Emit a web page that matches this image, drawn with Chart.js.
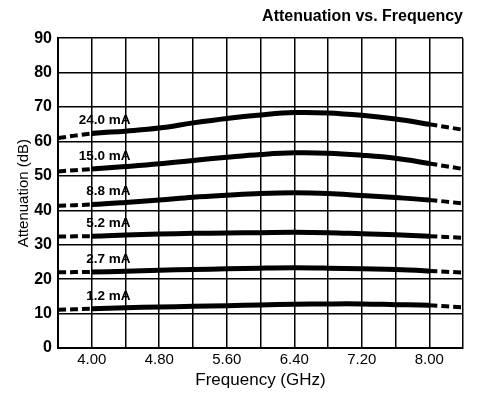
<!DOCTYPE html>
<html>
<head>
<meta charset="utf-8">
<script src="https://cdn.jsdelivr.net/npm/chart.js@4/dist/chart.umd.min.js"></script>
<style>
  html, body { margin: 0; padding: 0; background: #fff; }
  #wrap { width: 483px; height: 394px; }
</style>
</head>
<body>
<div id="wrap"><canvas id="c" width="483" height="394"></canvas></div>
<script>
// Frequency points (GHz)
const freqs = [3.6, 4.0, 4.4, 4.8, 5.2, 5.6, 6.0, 6.4, 6.8, 7.2, 7.6, 8.0, 8.4];
// Curve labels (bias current)
const currents = ['24.0 mA', '15.0 mA', '8.8 mA', '5.2 mA', '2.7 mA', '1.2 mA'];
// Attenuation (dB) for each current
const att24_0 = [61.0, 62.3, 63.0, 63.9, 65.4, 66.7, 67.7, 68.4, 68.3, 67.6, 66.5, 65.0, 63.4];
const att15_0 = [51.3, 52.0, 52.7, 53.5, 54.5, 55.4, 56.2, 56.7, 56.6, 56.0, 55.1, 53.6, 52.0];
const att8_8  = [41.3, 41.7, 42.3, 43.0, 43.8, 44.4, 44.9, 45.1, 44.9, 44.3, 43.7, 43.0, 42.0];
const att5_2  = [32.4, 32.5, 32.8, 33.1, 33.3, 33.4, 33.5, 33.6, 33.5, 33.2, 32.9, 32.5, 32.0];
const att2_7  = [22.0, 22.1, 22.3, 22.6, 22.8, 23.0, 23.2, 23.3, 23.2, 23.0, 22.8, 22.4, 21.9];
const att1_2  = [11.1, 11.4, 11.7, 11.9, 12.1, 12.3, 12.5, 12.7, 12.8, 12.8, 12.6, 12.4, 11.8];
// Measured (solid) range; outside it the curves are dashed
const solidFrom = 4.0;
const solidTo = 8.0;
// Axis ticks
const xLabeledTicks = ['4.00', '4.80', '5.60', '6.40', '7.20', '8.00'];
const yTicks = [0, 10, 20, 30, 40, 50, 60, 70, 80, 90];

const series = [att24_0, att15_0, att8_8, att5_2, att2_7, att1_2];
const FONT = '"Liberation Sans", Arial, Helvetica, sans-serif';

const isDashed = ctx => ctx.p0.parsed.x < solidFrom - 0.01 || ctx.p1.parsed.x > solidTo + 0.01;

const datasets = series.map((vals, i) => ({
  label: currents[i],
  data: freqs.map((f, j) => ({ x: f, y: vals[j] })),
  borderColor: '#000',
  backgroundColor: '#000',
  borderWidth: 5,
  pointRadius: 0,
  tension: 0.4,
  fill: false,
  segment: {
    borderDash: ctx => isDashed(ctx) ? [8, 4] : undefined,
    borderWidth: ctx => isDashed(ctx) ? 4 : 5
  }
}));

const curveLabels = {
  id: 'curveLabels',
  afterDatasetsDraw(chart) {
    const { ctx, scales: { x, y } } = chart;
    ctx.save();
    ctx.font = 'bold 13.5px ' + FONT;
    ctx.fillStyle = '#000';
    ctx.textAlign = 'right';
    ctx.textBaseline = 'middle';
    chart.data.datasets.forEach((ds) => {
      const p0 = ds.data[1], p1 = ds.data[2];
      const v = (p0.y + p1.y) / 2;
      const px = x.getPixelForValue(4.4) + 5;
      const py = y.getPixelForValue(v) - 12;
      ctx.fillText(ds.label, px, py);
    });
    ctx.restore();
  }
};

new Chart(document.getElementById('c'), {
  type: 'line',
  data: { datasets },
  options: {
    responsive: false,
    animation: false,
    devicePixelRatio: 1,
    layout: { padding: { left: 0, right: 20, top: 0, bottom: 0 } },
    plugins: {
      legend: { display: false },
      tooltip: { enabled: false },
      title: {
        display: true,
        text: 'Attenuation vs. Frequency',
        align: 'end',
        color: '#000',
        font: { family: FONT, size: 16, weight: 'bold' },
        padding: { top: 7, bottom: 12 }
      }
    },
    scales: {
      x: {
        type: 'linear',
        min: 3.6,
        max: 8.4,
        afterBuildTicks: (scale) => {
          scale.ticks = freqs.map(v => ({ value: v }));
        },
        ticks: {
          color: '#000',
          font: { family: FONT, size: 15 },
          padding: 3,
          autoSkip: false,
          maxRotation: 0,
          callback: (val, idx) => (idx % 2 === 1 ? xLabeledTicks[(idx - 1) / 2] : '')
        },
        grid: { color: '#000', lineWidth: 1.5, drawTicks: false },
        border: { color: '#000', width: 2 },
        title: {
          display: true,
          text: 'Frequency (GHz)',
          color: '#000',
          font: { family: FONT, size: 17 },
          padding: { top: 2, bottom: 3 }
        },
        afterFit: (scale) => { scale.height = 46; }
      },
      y: {
        type: 'linear',
        min: 0,
        max: 90,
        afterBuildTicks: (scale) => {
          scale.ticks = yTicks.map(v => ({ value: v }));
        },
        ticks: {
          color: '#000',
          font: { family: FONT, size: 16, weight: 'bold' },
          padding: 6
        },
        grid: { color: '#000', lineWidth: 1.5, drawTicks: false },
        border: { color: '#000', width: 2 },
        title: {
          display: true,
          text: 'Attenuation (dB)',
          color: '#000',
          font: { family: FONT, size: 15 },
          padding: { top: 15, bottom: 0 }
        },
        afterFit: (scale) => { scale.width = 58; }
      }
    }
  },
  plugins: [curveLabels]
});
</script>
</body>
</html>
